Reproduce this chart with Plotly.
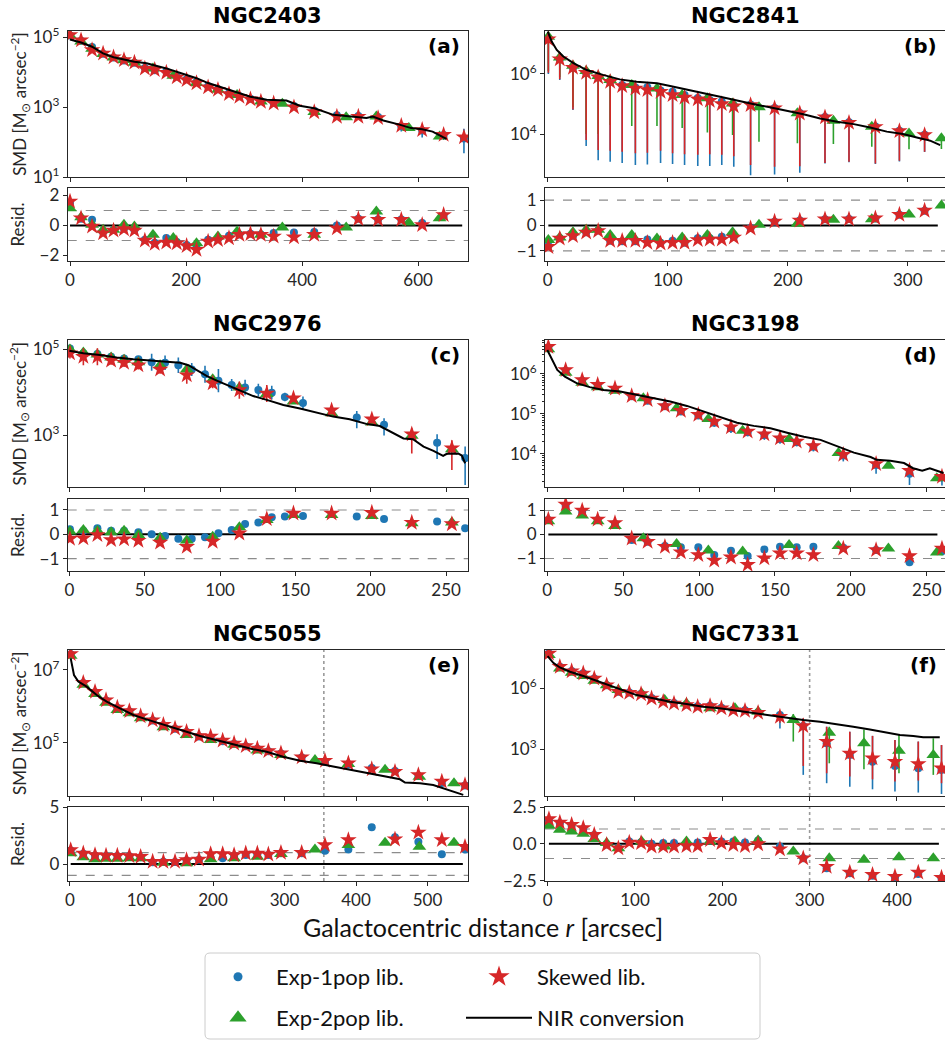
import numpy as np
import plotly.graph_objects as go

# ------------------------------------------------------------------ data
galaxies = ["NGC2403", "NGC2841", "NGC2976", "NGC3198", "NGC5055", "NGC7331"]
panel_tags = ["(a)", "(b)", "(c)", "(d)", "(e)", "(f)"]
series_names = ["Exp-1pop lib.", "Exp-2pop lib.", "Skewed lib.", "NIR conversion"]
# radius in arcsec, SMD as log10(Msun arcsec^-2), errors in dex, residuals
# ---- (a) NGC2403
a_r_nir = [0, 19, 38, 57, 75, 111, 132, 166, 201, 218, 238, 274, 311, 339, 373, 396, 421, 454, 476, 497, 511, 522, 540, 568, 588, 607, 625, 643, 649]
a_lg_nir = [4.94, 4.85, 4.73, 4.54, 4.43, 4.30, 4.26, 4.11, 3.92, 3.83, 3.69, 3.50, 3.30, 3.21, 3.19, 3.04, 2.97, 2.78, 2.75, 2.71, 2.69, 2.73, 2.62, 2.50, 2.40, 2.37, 2.30, 2.14, 2.09]
a_r_sk = [0, 19, 38, 57, 75, 93, 111, 129, 146, 166, 184, 201, 218, 238, 255, 274, 292, 311, 329, 351, 386, 421, 460, 497, 531, 571, 607, 644, 679]
a_lg_sk = [5.07, 4.92, 4.64, 4.54, 4.43, 4.35, 4.28, 4.11, 4.07, 3.99, 3.86, 3.78, 3.69, 3.57, 3.50, 3.38, 3.30, 3.23, 3.16, 3.11, 3.00, 2.86, 2.73, 2.73, 2.69, 2.47, 2.35, 2.21, 2.14]
a_res_sk = [1.6, 0.49, -0.07, -0.51, -0.33, -0.24, -0.33, -1.0, -1.22, -1.13, -1.18, -1.36, -1.62, -1.07, -0.96, -0.84, -0.62, -0.56, -0.62, -0.73, -0.78, -0.62, -0.18, 0.44, 0.38, 0.38, 0.04, 0.71, None]
a_r_e1 = a_r_sk
a_lg_e1 = [5.05, 4.90, 4.72, 4.53, 4.42, 4.34, 4.27, 4.12, 4.06, 4.02, 3.88, 3.80, 3.72, 3.60, 3.51, 3.40, 3.31, 3.24, 3.17, 3.13, 3.03, 2.90, 2.77, 2.75, 2.72, 2.45, 2.33, 2.20, 2.10]
a_hi_e1 = [0.03, 0.03, 0.05, 0.03, 0.03, 0.03, 0.03, 0.03, 0.03, 0.03, 0.03, 0.03, 0.03, 0.05, 0.05, 0.05, 0.05, 0.05, 0.05, 0.05, 0.06, 0.06, 0.06, 0.06, 0.06, 0.08, 0.12, 0.10, 0.28]
a_lo_e1 = [0.03, 0.03, 0.05, 0.03, 0.03, 0.03, 0.03, 0.03, 0.03, 0.03, 0.03, 0.03, 0.03, 0.05, 0.05, 0.05, 0.05, 0.05, 0.05, 0.05, 0.06, 0.06, 0.06, 0.06, 0.06, 0.15, 0.20, 0.14, 0.42]
a_res_e1 = [1.5, 0.45, 0.38, -0.45, -0.3, -0.2, -0.3, -0.95, -1.15, -0.84, -1.1, -1.3, -1.5, -0.95, -0.9, -0.69, -0.6, -0.55, -0.6, -0.51, -0.47, -0.44, 0.0, 0.45, 0.4, 0.4, 0.16, 0.65, None]
a_r_e2 = [0, 19, 38, 57, 75, 93, 111, 143, 178, 218, 255, 288, 329, 366, 421, 476, 528, 584, 637]
a_lg_e2 = [5.05, 4.88, 4.67, 4.52, 4.42, 4.35, 4.27, 4.11, 3.90, 3.69, 3.50, 3.35, 3.16, 3.10, 2.86, 2.71, 2.73, 2.40, 2.16]
a_res_e2 = [1.15, 0.55, 0.04, -0.29, -0.29, 0.04, -0.07, -0.62, -0.84, -1.18, -0.73, -0.4, -0.62, -0.13, -0.62, -0.13, 0.93, 0.2, 0.49]
# ---- (b) NGC2841
b_r_nir = [0, 3.3, 7.5, 13, 21.4, 32.5, 46, 60, 74, 91, 102, 116, 130, 143.6, 157.5, 171, 185, 199, 213, 227, 241, 255, 268.6, 282.5, 296, 310, 318.6, 327]
b_lg_nir = [7.41, 7.08, 6.80, 6.58, 6.36, 6.13, 5.97, 5.82, 5.74, 5.69, 5.60, 5.49, 5.36, 5.24, 5.11, 5.00, 4.89, 4.78, 4.66, 4.52, 4.41, 4.33, 4.22, 4.08, 4.00, 3.86, 3.78, 3.63]
b_r_sk = [0.5, 10, 21, 32, 42, 52, 62, 73, 83, 94, 104, 114, 125, 135, 145, 155, 169, 189, 210, 231, 251, 273, 293, 314]
b_lg_sk = [7.16, 6.49, 6.21, 6.04, 5.89, 5.74, 5.60, 5.52, 5.47, 5.41, 5.30, 5.22, 5.16, 5.11, 5.00, 4.93, 4.97, 4.86, 4.69, 4.56, 4.38, 4.24, 4.10, 3.97]
b_hi_sk = [0.05, 0.05, 0.05, 0.05, 0.05, 0.05, 0.05, 0.05, 0.05, 0.05, 0.05, 0.05, 0.05, 0.05, 0.05, 0.05, 0.05, 0.05, 0.05, 0.05, 0.05, 0.05, 0.05, 0.05]
b_lo_sk = [1.12, 0.67, 1.39, 2.24, 2.42, 2.30, 2.19, 2.16, 2.09, 1.97, 1.94, 1.89, 1.85, 1.78, 1.69, 1.67, 2.00, 1.95, 1.76, 1.52, 1.30, 1.22, 0.99, 0.56]
b_res_sk = [-0.84, -0.51, -0.41, -0.27, -0.21, -0.6, -0.6, -0.6, -0.68, -0.71, -0.68, -0.68, -0.57, -0.55, -0.55, -0.47, -0.11, 0.16, 0.2, 0.25, 0.25, 0.29, 0.43, 0.59]
b_r_e1 = b_r_sk
b_lg_e1 = [7.16, 6.49, 6.21, 6.04, 5.89, 5.75, 5.63, 5.55, 5.56, 5.45, 5.41, 5.30, 5.20, 5.13, 5.08, 4.95, 4.98, 4.87, 4.70, 4.57, 4.39, 4.25, 4.11, 3.98]
b_hi_e1 = [0.05, 0.05, 0.05, 0.05, 0.05, 0.05, 0.05, 0.05, 0.05, 0.05, 0.05, 0.05, 0.05, 0.05, 0.05, 0.05, 0.05, 0.05, 0.05, 0.05, 0.05, 0.05, 0.05, 0.05]
b_lo_e1 = [1.16, 0.69, 1.41, 2.44, 2.76, 2.67, 2.59, 2.58, 2.57, 2.41, 2.41, 2.33, 2.26, 2.19, 2.11, 2.04, 2.35, 2.22, 1.99, 1.55, 1.33, 1.25, 1.02, 0.58]
b_res_e1 = [-0.8, -0.5, -0.4, -0.27, -0.2, -0.6, -0.62, -0.62, -0.55, -0.68, -0.6, -0.68, -0.5, -0.5, -0.44, -0.45, -0.1, 0.15, 0.2, 0.25, 0.26, 0.28, 0.42, 0.58]
b_r_e2 = [0.5, 10, 21, 32, 42, 52, 70, 91, 112, 133, 154, 176, 208, 238, 270, 301, 328]
b_lg_e2 = [7.24, 6.55, 6.27, 6.10, 5.93, 5.80, 5.63, 5.52, 5.30, 5.19, 5.02, 4.89, 4.69, 4.44, 4.24, 4.02, 3.86]
b_hi_e2 = [0.05, 0.05, 0.05, 0.05, 0.05, 0.05, 0.05, 0.05, 0.05, 0.05, 0.05, 0.05, 0.05, 0.05, 0.05, 0.05, 0.05]
b_lo_e2 = [1.14, 0.65, 1.37, 2.10, 1.93, 1.50, 1.36, 1.25, 1.10, 1.14, 1.05, 1.15, 1.00, 0.77, 0.66, 0.53, 0.36]
b_res_e2 = [-0.57, -0.47, -0.27, -0.17, -0.17, -0.37, -0.37, -0.51, -0.47, -0.37, -0.27, 0.03, 0.07, 0.23, 0.25, 0.43, 0.79]
# ---- (c) NGC2976
c_r_nir = [0, 9.3, 20.4, 31.4, 42.5, 53.5, 64.6, 73.5, 79, 84.5, 91, 97.8, 104.4, 113, 122, 131, 142, 153, 164, 175, 186, 197, 206, 215, 221.7, 228, 235, 241.6, 248, 250.4, 258, 260.4, 262.6]
c_lg_nir = [4.97, 4.91, 4.87, 4.81, 4.77, 4.74, 4.71, 4.69, 4.63, 4.52, 4.38, 4.27, 4.17, 4.04, 3.91, 3.82, 3.70, 3.62, 3.52, 3.43, 3.37, 3.26, 3.21, 3.05, 2.92, 2.90, 2.73, 2.63, 2.51, 2.56, 2.57, 2.52, 2.34]
c_r_e1 = [0.4, 9.3, 18.6, 27.7, 36.3, 45.8, 54.6, 63.5, 72.3, 81.2, 90, 98.9, 107.7, 116.6, 125.4, 134.3, 143, 155, 190.7, 208.8, 244, 262.6]
c_lg_e1 = [5.02, 4.91, 4.89, 4.83, 4.79, 4.77, 4.70, 4.69, 4.63, 4.53, 4.42, 4.27, 4.17, 4.11, 4.05, 3.99, 3.89, 3.75, 3.41, 3.24, 2.82, 2.46]
c_hi_e1 = [0.08, 0.08, 0.08, 0.06, 0.06, 0.06, 0.2, 0.17, 0.18, 0.15, 0.2, 0.27, 0.14, 0.18, 0.15, 0.16, 0.1, 0.15, 0.15, 0.15, 0.2, 0.27]
c_lo_e1 = [0.08, 0.08, 0.08, 0.06, 0.06, 0.06, 0.2, 0.17, 0.18, 0.15, 0.2, 0.27, 0.14, 0.18, 0.15, 0.16, 0.1, 0.15, 0.25, 0.25, 0.38, 0.63]
c_res_e1 = [0.21, 0.14, 0.25, 0.14, 0.14, 0.08, 0.0, -0.07, -0.18, -0.18, -0.12, 0.04, 0.18, 0.42, 0.48, 0.7, 0.73, 0.75, 0.73, 0.63, 0.52, 0.25]
c_r_sk = [0.4, 9.3, 18.6, 27.7, 36.3, 45.8, 60.2, 77.9, 95.1, 112.8, 131, 148.7, 174, 200.7, 227.2, 253.8]
c_lg_sk = [4.91, 4.83, 4.83, 4.74, 4.69, 4.63, 4.53, 4.40, 4.21, 4.05, 3.97, 3.86, 3.58, 3.37, 3.02, 2.69]
c_hi_sk = [0.15, 0.2, 0.2, 0.1, 0.1, 0.1, 0.1, 0.2, 0.12, 0.2, 0.2, 0.08, 0.1, 0.1, 0.14, 0.19]
c_lo_sk = [0.12, 0.2, 0.2, 0.1, 0.1, 0.1, 0.1, 0.2, 0.12, 0.2, 0.2, 0.08, 0.1, 0.1, 0.45, 0.51]
c_res_sk = [-0.18, -0.16, -0.03, -0.23, -0.2, -0.26, -0.34, -0.51, -0.3, 0.04, 0.63, 0.86, 0.86, 0.89, 0.48, 0.42]
c_r_e2 = c_r_sk
c_lg_e2 = [5.0, 4.93, 4.88, 4.81, 4.76, 4.70, 4.63, 4.53, 4.30, 4.11, 3.96, 3.78, 3.51, 3.29, 2.98, 2.67]
c_res_e2 = [0.11, 0.18, 0.14, 0.08, 0.14, -0.03, -0.14, -0.26, -0.1, 0.29, 0.59, 0.79, 0.79, 0.75, 0.45, 0.48]
# ---- (d) NGC3198
d_r_nir = [0, 2.9, 6.6, 11.6, 19.3, 28, 37, 48, 59, 70, 81, 92, 103, 114, 125, 136, 147, 158, 169, 180, 191, 202, 213, 217, 226, 235, 241, 247, 252, 257, 261]
d_lg_nir = [6.60, 6.39, 6.10, 5.93, 5.77, 5.67, 5.60, 5.56, 5.48, 5.39, 5.31, 5.20, 5.06, 4.93, 4.78, 4.70, 4.64, 4.53, 4.43, 4.35, 4.18, 4.03, 3.92, 3.85, 3.83, 3.77, 3.64, 3.58, 3.64, 3.58, 3.52]
d_r_sk = [0.7, 12.1, 23, 33.2, 44.6, 55.6, 66.1, 77.5, 88, 99.5, 110, 121, 132, 143, 153.3, 164.3, 175.3, 195, 216.6, 238.6, 260]
d_lg_sk = [6.68, 6.10, 5.85, 5.73, 5.64, 5.45, 5.35, 5.20, 5.08, 4.98, 4.81, 4.67, 4.56, 4.49, 4.39, 4.31, 4.20, 3.98, 3.75, 3.58, 3.43]
d_hi_sk = [0.04, 0.04, 0.04, 0.04, 0.05, 0.1, 0.06, 0.1, 0.06, 0.06, 0.06, 0.06, 0.06, 0.06, 0.06, 0.06, 0.06, 0.06, 0.06, 0.06, 0.06]
d_lo_sk = [0.04, 0.04, 0.04, 0.04, 0.05, 0.1, 0.06, 0.1, 0.06, 0.06, 0.06, 0.06, 0.06, 0.06, 0.06, 0.06, 0.06, 0.06, 0.06, 0.06, 0.06]
d_res_sk = [0.63, 1.25, 1.0, 0.63, 0.48, -0.16, -0.3, -0.51, -0.74, -0.85, -1.08, -0.95, -1.26, -0.99, -0.78, -0.78, -0.85, -0.58, -0.64, -0.89, -0.58]
d_r_e1 = d_r_sk
d_lg_e1 = [6.66, 6.08, 5.83, 5.71, 5.62, 5.44, 5.33, 5.19, 5.06, 4.96, 4.78, 4.64, 4.54, 4.47, 4.37, 4.29, 4.18, 3.96, 3.72, 3.50, 3.41]
d_hi_e1 = [0.05, 0.05, 0.05, 0.05, 0.05, 0.08, 0.08, 0.08, 0.08, 0.08, 0.1, 0.1, 0.1, 0.1, 0.12, 0.1, 0.1, 0.1, 0.12, 0.12, 0.12]
d_lo_e1 = [0.05, 0.05, 0.05, 0.05, 0.05, 0.08, 0.08, 0.08, 0.08, 0.08, 0.1, 0.12, 0.1, 0.12, 0.12, 0.1, 0.12, 0.15, 0.22, 0.28, 0.2]
d_res_e1 = [0.6, 1.2, 0.95, 0.6, 0.45, -0.23, -0.3, -0.48, -0.53, -0.53, -0.85, -0.68, -0.89, -0.62, -0.51, -0.53, -0.51, -0.55, -0.65, -1.16, -0.7]
d_r_e2 = [0.7, 12.1, 23, 33.2, 44.6, 63.3, 85.2, 106.1, 128.7, 159.3, 191.8, 224.7, 256.6]
d_lg_e2 = [6.62, 6.03, 5.78, 5.67, 5.58, 5.39, 5.14, 4.87, 4.58, 4.37, 4.02, 3.70, 3.39]
d_res_e2 = [0.55, 0.96, 0.79, 0.55, 0.36, -0.16, -0.4, -0.67, -0.71, -0.44, -0.48, -0.58, -0.75]
# ---- (e) NGC5055
e_r_nir = [1, 5.6, 11.7, 23.3, 37.3, 51.3, 70, 88.6, 107, 126, 144.5, 163, 182, 200.5, 219, 238, 256, 275, 298, 321.7, 345, 368, 391.6, 415, 438, 461.5, 468.5, 489.5, 508, 522, 536, 550]
e_lg_nir = [7.32, 6.86, 6.68, 6.54, 6.31, 6.13, 5.94, 5.76, 5.64, 5.53, 5.42, 5.30, 5.18, 5.09, 5.00, 4.91, 4.82, 4.75, 4.61, 4.50, 4.43, 4.34, 4.25, 4.17, 4.08, 3.99, 3.90, 3.88, 3.83, 3.74, 3.65, 3.56]
e_r_sk = [1, 18.6, 35, 50.4, 66.2, 83, 98.8, 115.6, 130.6, 146.9, 163, 180.4, 196.7, 213.5, 229.5, 245.8, 262, 277.4, 295, 324, 356.6, 389.3, 422, 454.5, 487.2, 520, 552.4]
e_lg_sk = [7.44, 6.65, 6.40, 6.17, 5.97, 5.87, 5.73, 5.62, 5.49, 5.39, 5.30, 5.18, 5.17, 5.06, 4.98, 4.91, 4.84, 4.77, 4.71, 4.60, 4.50, 4.43, 4.27, 4.20, 4.11, 3.93, 3.83]
e_res_sk = [1.24, 0.94, 0.79, 0.74, 0.74, 0.71, 0.65, 0.21, 0.21, 0.21, 0.35, 0.41, 0.88, 0.88, 0.79, 0.94, 0.94, 0.85, 1.0, 1.0, 1.68, 2.12, None, 2.18, 2.79, 2.12, 1.53]
e_r_e1 = e_r_sk
e_lg_e1 = [7.43, 6.64, 6.39, 6.16, 5.96, 5.86, 5.72, 5.61, 5.48, 5.38, 5.29, 5.17, 5.12, 5.04, 4.97, 4.90, 4.83, 4.76, 4.70, 4.59, 4.47, 4.40, 4.30, 4.22, 4.08, 3.89, 3.82]
e_res_e1 = [1.2, 0.9, 0.75, 0.7, 0.7, 0.68, 0.6, 0.15, 0.2, 0.18, 0.3, 0.38, 0.55, 0.5, 0.7, 0.8, 0.85, 0.8, 0.95, 0.95, 1.18, 1.29, 3.24, 2.35, 1.97, 0.85, 1.29]
e_r_e2 = [1, 18.6, 35, 50.4, 66.2, 83, 98.8, 130.6, 163, 196.7, 229.5, 262, 295, 342.6, 389.3, 440.6, 488.6, 537]
e_lg_e2 = [7.39, 6.59, 6.34, 6.10, 5.90, 5.81, 5.67, 5.42, 5.21, 5.07, 4.94, 4.78, 4.66, 4.52, 4.41, 4.25, 4.06, 3.88]
e_res_e2 = [0.94, 0.59, 0.41, 0.47, 0.47, 0.5, 0.5, 0.12, 0.06, 0.41, 0.5, 0.65, 0.88, 1.29, 1.68, 1.88, 1.53, 1.88]
e_limit_r = 355
# ---- (f) NGC7331
f_r_nir = [0, 6.5, 14, 25.6, 40.8, 56, 71.4, 86.6, 102, 121, 140, 159, 178, 197, 216, 235.5, 254.6, 273.7, 292.7, 311.8, 331, 350, 369, 388, 403.4, 418.7, 430, 449]
f_lg_nir = [7.59, 7.26, 7.03, 6.82, 6.61, 6.38, 6.11, 5.89, 5.67, 5.51, 5.34, 5.23, 5.10, 5.02, 4.90, 4.80, 4.69, 4.57, 4.44, 4.36, 4.25, 4.11, 3.98, 3.82, 3.70, 3.66, 3.59, 3.59]
f_r_sk = [1.5, 14, 27.5, 40.8, 53.4, 67.6, 81, 93.5, 107, 119, 132.4, 144.7, 159, 171.8, 186, 199, 212.6, 226, 241, 266, 292.7, 319.5, 346, 372, 397.7, 424.4, 451]
f_lg_sk = [7.72, 7.07, 6.85, 6.74, 6.49, 6.16, 5.84, 5.79, 5.72, 5.51, 5.34, 5.26, 5.18, 5.10, 5.13, 5.02, 4.93, 4.90, 4.80, 4.61, 4.15, 3.38, 2.80, 2.56, 2.39, 2.28, 2.07]
f_hi_sk = [0.04, 0.04, 0.04, 0.04, 0.04, 0.04, 0.04, 0.04, 0.04, 0.04, 0.04, 0.04, 0.04, 0.04, 0.04, 0.04, 0.04, 0.04, 0.04, 0.15, 0.37, 0.73, 1.07, 1.10, 1.07, 1.10, 1.14]
f_lo_sk = [0.04, 0.04, 0.04, 0.04, 0.04, 0.04, 0.04, 0.04, 0.04, 0.04, 0.04, 0.04, 0.04, 0.04, 0.04, 0.04, 0.04, 0.04, 0.04, 0.30, 1.97, 1.56, 1.14, 1.04, 0.98, 0.82, 0.74]
f_res_sk = [1.68, 1.45, 1.30, 1.07, 0.61, -0.07, -0.3, 0.09, 0.05, -0.18, -0.18, -0.18, -0.14, -0.14, 0.27, 0.05, -0.07, -0.14, -0.02, -0.36, -0.98, -1.55, -1.95, -2.11, -2.23, -1.95, -2.3]
f_r_e1 = f_r_sk
f_lg_e1 = [7.72, 7.07, 6.85, 6.74, 6.49, 6.16, 5.84, 5.80, 5.74, 5.53, 5.36, 5.28, 5.20, 5.12, 5.15, 5.04, 4.95, 4.92, 4.82, 4.69, 4.15, 3.30, 2.72, 2.39, 2.18, 2.07, 1.98]
f_hi_e1 = [0.04, 0.04, 0.04, 0.04, 0.04, 0.04, 0.04, 0.04, 0.04, 0.04, 0.04, 0.04, 0.04, 0.04, 0.04, 0.04, 0.04, 0.04, 0.04, 0.10, 0.37, 0.81, 1.15, 1.27, 1.28, 1.31, 1.23]
f_lo_e1 = [0.04, 0.04, 0.04, 0.04, 0.04, 0.04, 0.04, 0.04, 0.04, 0.04, 0.04, 0.04, 0.04, 0.04, 0.04, 0.04, 0.04, 0.04, 0.04, 0.66, 2.41, 1.97, 1.56, 1.36, 1.26, 1.20, 1.18]
f_res_e1 = [1.6, 1.4, 1.25, 1.0, 0.6, -0.05, -0.25, 0.16, 0.1, 0.0, 0.05, 0.05, -0.1, 0.09, 0.2, 0.16, 0.16, 0.09, 0.23, -0.18, -0.98, -1.66, -2.0, -2.18, -2.27, -2.05, -2.34]
f_r_e2 = [1.5, 14, 27.5, 40.8, 53.4, 67.6, 81, 107.6, 134, 159, 186, 214.5, 241, 281.3, 322.5, 362.2, 402.3, 441.6]
f_lg_e2 = [7.64, 6.98, 6.77, 6.61, 6.38, 6.16, 5.92, 5.75, 5.43, 5.26, 5.02, 5.02, 4.85, 4.44, 3.82, 3.30, 2.93, 2.72]
f_hi_e2 = [0.04, 0.04, 0.04, 0.04, 0.04, 0.04, 0.04, 0.04, 0.04, 0.04, 0.04, 0.04, 0.04, 0.30, 0.29, 0.68, 0.82, 0.82]
f_lo_e2 = [0.04, 0.04, 0.04, 0.04, 0.04, 0.04, 0.04, 0.04, 0.04, 0.04, 0.04, 0.04, 0.04, 1.06, 1.51, 1.28, 1.11, 0.98]
f_res_e2 = [1.23, 0.95, 0.84, 0.68, 0.32, 0.05, -0.3, 0.16, -0.18, 0.16, 0.16, 0.16, 0.23, -0.52, -0.98, -1.09, -0.91, -0.98]
f_limit_r = 300

# tick labels
x_ticks = [[0, 200, 400, 600], [0, 100, 200, 300], [0, 50, 100, 150, 200, 250],
           [0, 50, 100, 150, 200, 250], [0, 100, 200, 300, 400, 500], [0, 100, 200, 300, 400]]
y_tick_exps = [[1, 3, 5], [4, 6], [3, 5], [4, 5, 6], [5, 7], [3, 6]]
res_ticks = [[-2, 0, 2], [-1, 0, 1], [-1, 0, 1], [-1, 0, 1], [0, 5], [-2.5, 0, 2.5]]
res_ticktext = [["\u22122", "0", "2"], ["\u22121", "0", "1"], ["\u22121", "0", "1"],
                ["\u22121", "0", "1"], ["0", "5"], ["\u22122.5", "0.0", "2.5"]]

# ------------------------------------------------------------------ assemble
panels = [
    dict(nir=(a_r_nir, a_lg_nir), e1=(a_r_e1, a_lg_e1, a_hi_e1, a_lo_e1, a_res_e1),
         e2=(a_r_e2, a_lg_e2, None, None, a_res_e2), sk=(a_r_sk, a_lg_sk, None, None, a_res_sk), vline=None),
    dict(nir=(b_r_nir, b_lg_nir), e1=(b_r_e1, b_lg_e1, b_hi_e1, b_lo_e1, b_res_e1),
         e2=(b_r_e2, b_lg_e2, b_hi_e2, b_lo_e2, b_res_e2), sk=(b_r_sk, b_lg_sk, b_hi_sk, b_lo_sk, b_res_sk), vline=None),
    dict(nir=(c_r_nir, c_lg_nir), e1=(c_r_e1, c_lg_e1, c_hi_e1, c_lo_e1, c_res_e1),
         e2=(c_r_e2, c_lg_e2, None, None, c_res_e2), sk=(c_r_sk, c_lg_sk, c_hi_sk, c_lo_sk, c_res_sk), vline=None),
    dict(nir=(d_r_nir, d_lg_nir), e1=(d_r_e1, d_lg_e1, d_hi_e1, d_lo_e1, d_res_e1),
         e2=(d_r_e2, d_lg_e2, None, None, d_res_e2), sk=(d_r_sk, d_lg_sk, d_hi_sk, d_lo_sk, d_res_sk), vline=None),
    dict(nir=(e_r_nir, e_lg_nir), e1=(e_r_e1, e_lg_e1, None, None, e_res_e1),
         e2=(e_r_e2, e_lg_e2, None, None, e_res_e2), sk=(e_r_sk, e_lg_sk, None, None, e_res_sk), vline=e_limit_r),
    dict(nir=(f_r_nir, f_lg_nir), e1=(f_r_e1, f_lg_e1, f_hi_e1, f_lo_e1, f_res_e1),
         e2=(f_r_e2, f_lg_e2, f_hi_e2, f_lo_e2, f_res_e2), sk=(f_r_sk, f_lg_sk, f_hi_sk, f_lo_sk, f_res_sk), vline=f_limit_r),
]

W, H = 945, 1042
col_px = [(67.7, 468.0), (545.0, 945.0)]
row_px = [((30.7, 177.0), (188.0, 261.0)), ((340.0, 487.0), (499.0, 571.0)), ((650.0, 796.0), (807.0, 881.0))]
x_ranges = [[-4, 686], [-2.3, 331], [-1.1, 264.5], [-1.5, 262], [-3.2, 556.6], [-3, 455]]
y_ranges = [[1, 5.19], [2.57, 7.44], [1.785, 5.22], [3.17, 6.85], [3.53, 7.55], [0.7, 7.89]]
r_ranges = [[-2.37, 2.5], [-1.4, 1.48], [-1.51, 1.45], [-1.52, 1.48], [-1.5, 5.03], [-2.53, 2.5]]
title_y = [16, 324, 634]

def fx(p):
    return p / W

def fy(p):
    return 1 - p / H

def axn(kind, n):
    return kind if n == 1 else f"{kind}{n}"

styles = {
    "e1": dict(color="#1f77b4", symbol="circle", size=8, legsize=9, name=series_names[0], legend="legend"),
    "e2": dict(color="#2ca02c", symbol="triangle-up", size=12, legsize=15, name=series_names[1], legend="legend2"),
    "sk": dict(color="#d62728", symbol="star", size=12.5, legsize=16, name=series_names[2], legend="legend"),
}

TICKFONT = dict(family="Lato", size=17, color="#262626")
AXLINE = "#262626"

fig = go.Figure()
shapes, annotations = [], []
layout_axes = {}

# legend entries (no data; symbols only)
for key in ["e1", "sk", "e2"]:
    st = styles[key]
    fig.add_trace(go.Scatter(x=[None], y=[None], mode="markers", name=st["name"], legend=st["legend"],
                             legendgroup=key, showlegend=True,
                             marker=dict(color=st["color"], symbol=st["symbol"], size=st["legsize"],
                                         line=dict(width=0))))

for i, p in enumerate(panels):
    col, row = i % 2, i // 2
    nm, nr = 2 * i + 1, 2 * i + 2
    (mt, mb), (rt, rb) = row_px[row]
    xd = [fx(col_px[col][0]), fx(col_px[col][1])]

    for key in ["e1", "e2", "sk"]:
        st = styles[key]
        r, lg, hi, lo, res = p[key]
        lg = np.array(lg, dtype=float)
        y = 10 ** lg
        err = None
        if hi is not None:
            hi = np.array(hi, dtype=float)
            lo = np.array(lo, dtype=float)
            err = dict(type="data", symmetric=False, array=10 ** (lg + hi) - y,
                       arrayminus=y - 10 ** (lg - lo), color=st["color"], thickness=1.6, width=0)
        fig.add_trace(go.Scatter(
            x=r, y=y, mode="markers", name=st["name"], legendgroup=key, showlegend=False, error_y=err,
            marker=dict(color=st["color"], symbol=st["symbol"], size=st["size"], line=dict(width=0)),
            xaxis=axn("x", nm), yaxis=axn("y", nm), hoverinfo="skip"))
        fig.add_trace(go.Scatter(
            x=r, y=np.array(res, dtype=float), mode="markers", name=st["name"], legendgroup=key,
            showlegend=False,
            marker=dict(color=st["color"], symbol=st["symbol"], size=st["size"], line=dict(width=0)),
            xaxis=axn("x", nr), yaxis=axn("y", nr), hoverinfo="skip"))

    rn, lgn = p["nir"]
    fig.add_trace(go.Scatter(
        x=rn, y=10 ** np.array(lgn, dtype=float), mode="lines", name=series_names[3],
        legendgroup="nir", legend="legend2", showlegend=(i == 0),
        line=dict(color="black", width=2), xaxis=axn("x", nm), yaxis=axn("y", nm), hoverinfo="skip"))

    all_r = list(p["e1"][0]) + list(p["e2"][0]) + list(p["sk"][0])
    shapes.append(dict(type="line", xref=axn("x", nr), yref=axn("y", nr), x0=min(all_r), x1=max(all_r) - 3,
                       y0=0, y1=0, line=dict(color="black", width=2), layer="below"))
    for yy in (-1, 1):
        shapes.append(dict(type="line", xref=axn("x", nr) + " domain", yref=axn("y", nr), x0=0, x1=1,
                           y0=yy, y1=yy, line=dict(color="#8c8c8c", width=1.1, dash="dash"), layer="below"))
    if p["vline"] is not None:
        for n in (nm, nr):
            shapes.append(dict(type="line", xref=axn("x", n), yref=axn("y", n) + " domain",
                               x0=p["vline"], x1=p["vline"], y0=0, y1=1,
                               line=dict(color="#9a9a9a", width=1.6, dash="dot"), layer="below"))

    common_x = dict(domain=xd, range=x_ranges[i], tickvals=x_ticks[i], ticks="outside", ticklen=4,
                    tickwidth=1, tickcolor=AXLINE, showline=True, linecolor=AXLINE, linewidth=1,
                    mirror=True, showgrid=False, zeroline=False, tickfont=TICKFONT, automargin=False)
    layout_axes[axn("xaxis", nm)] = dict(common_x, anchor=axn("y", nm), showticklabels=False)
    layout_axes[axn("xaxis", nr)] = dict(common_x, anchor=axn("y", nr), showticklabels=True)
    ymain = dict(domain=[fy(mb), fy(mt)], type="log", range=y_ranges[i], anchor=axn("x", nm),
                 tickvals=[10 ** e for e in y_tick_exps[i]],
                 ticktext=[f"10<sup>{e}</sup>" for e in y_tick_exps[i]],
                 ticks="outside", ticklen=4, tickwidth=1, tickcolor=AXLINE, showline=True,
                 linecolor=AXLINE, linewidth=1, mirror=True, showgrid=False, zeroline=False,
                 tickfont=TICKFONT, automargin=False)
    if i == 3:
        ymain["minor"] = dict(ticks="outside", ticklen=2, tickcolor=AXLINE, showgrid=False,
                              tickmode="array",
                              tickvals=[k * 10 ** e for e in (3, 4, 5, 6) for k in range(2, 10)])
    layout_axes[axn("yaxis", nm)] = ymain
    layout_axes[axn("yaxis", nr)] = dict(
        domain=[fy(rb), fy(rt)], range=r_ranges[i], anchor=axn("x", nr), tickvals=res_ticks[i],
        ticktext=res_ticktext[i], ticks="outside", ticklen=4, tickwidth=1, tickcolor=AXLINE,
        showline=True, linecolor=AXLINE, linewidth=1, mirror=True, showgrid=False, zeroline=False,
        tickfont=TICKFONT, automargin=False)

    # titles and tags
    annotations.append(dict(text=f"<b>{galaxies[i]}</b>", x=(xd[0] + xd[1]) / 2, y=fy(title_y[row]),
                            xref="paper", yref="paper", showarrow=False, xanchor="center", yanchor="middle",
                            font=dict(family="DejaVu Sans", size=21, color="black")))
    annotations.append(dict(text=f"<b>{panel_tags[i]}</b>", x=fx(col_px[col][1] - 6), y=fy(mt + 15),
                            xref="paper", yref="paper", showarrow=False, xanchor="right", yanchor="middle",
                            font=dict(family="DejaVu Sans", size=20, color="black")))
    if col == 0:
        annotations.append(dict(text="SMD [M<sub>\u2299</sub> arcsec<sup>\u22122</sup>]", x=fx(20),
                                y=fy((mt + mb) / 2), xref="paper", yref="paper", showarrow=False,
                                textangle=-90, xanchor="center", yanchor="middle",
                                font=dict(family="Lato", size=17, color="#262626")))
        annotations.append(dict(text="Resid.", x=fx(17), y=fy((rt + rb) / 2), xref="paper", yref="paper",
                                showarrow=False, textangle=-90, xanchor="center", yanchor="middle",
                                font=dict(family="Lato", size=17, color="#262626")))

annotations.append(dict(text="Galactocentric distance <i>r</i> [arcsec]", x=fx(483), y=fy(927),
                        xref="paper", yref="paper", showarrow=False, xanchor="center", yanchor="middle",
                        font=dict(family="Lato", size=25, color="#111111")))

# legend frame (rounded rectangle in paper coordinates)
L, R, T, B, rad = 205, 760, 953, 1039, 5
rx, ry = rad / W, rad / H
x0, x1, y0, y1 = fx(L), fx(R), fy(B), fy(T)
frame = (f"M {x0+rx},{y1} L {x1-rx},{y1} Q {x1},{y1} {x1},{y1-ry} L {x1},{y0+ry} "
         f"Q {x1},{y0} {x1-rx},{y0} L {x0+rx},{y0} Q {x0},{y0} {x0},{y0+ry} "
         f"L {x0},{y1-ry} Q {x0},{y1} {x0+rx},{y1} Z")
shapes.append(dict(type="path", path=frame, xref="paper", yref="paper",
                   line=dict(color="#cccccc", width=1), fillcolor="rgba(255,255,255,0.8)", layer="above"))

leg_common = dict(orientation="h", xanchor="left", yanchor="top",
                  font=dict(family="Lato", size=22, color="#111111"), borderwidth=0,
                  bgcolor="rgba(0,0,0,0)", entrywidth=180, itemwidth=66, itemsizing="trace",
                  traceorder="normal")

fig.update_layout(
    width=W, height=H, margin=dict(l=0, r=0, t=0, b=0, autoexpand=False),
    paper_bgcolor="white", plot_bgcolor="rgba(0,0,0,0)",
    shapes=shapes, annotations=annotations,
    legend=dict(leg_common, x=fx(200), y=fy(956)),
    legend2=dict(leg_common, x=fx(200), y=fy(997)),
    **layout_axes,
)

fig.write_html("out.html")
